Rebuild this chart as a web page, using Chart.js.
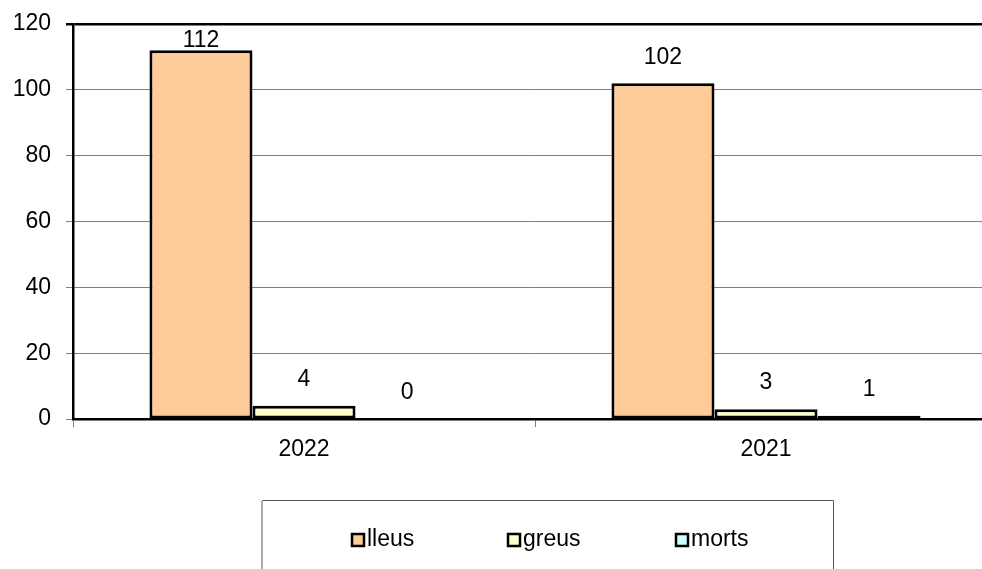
<!DOCTYPE html>
<html>
<head>
<meta charset="utf-8">
<script src="https://cdn.jsdelivr.net/npm/chart.js@4"></script>
<style>
	html, body { margin: 0; padding: 0; background: #fff; overflow: hidden; }
	#wrap { width: 982px; height: 569px; overflow: hidden; position: relative; }
	#chart { position: absolute; left: 0; top: 0; }
</style>
</head>
<body>
<div id="wrap"><canvas id="chart" width="1000" height="569"></canvas></div>
<script>

var categories = ['2022', '2021'];
var seriesNames = ['lleus', 'greus', 'morts'];
var lleus = [112, 102];
var greus = [4, 3];
var morts = [0, 1];
var seriesColors = ['#FFCC99', '#FFFFCC', '#CCFFFF'];
var yMin = 0, yMax = 120, yStep = 20;

var FONT = '"Liberation Sans", Arial, sans-serif';
var FONT_SIZE = 23;

//Value labels above each bar, pushed down if they would leave the plot
var valueLabels = {
	id: 'valueLabels',
	afterDatasetsDraw: function(chart) {
		var ctx = chart.ctx;
		ctx.save();
		ctx.font = FONT_SIZE + 'px ' + FONT;
		ctx.fillStyle = '#000';
		ctx.textAlign = 'center';
		ctx.textBaseline = 'middle';
		chart.data.datasets.forEach(function(ds, i) {
			chart.getDatasetMeta(i).data.forEach(function(bar, j) {
				var y = Math.max(bar.y - 26, chart.chartArea.top + 17);
				ctx.fillText(String(ds.data[j]), bar.x, y);
			});
		});
		ctx.restore();
	}
};

//Legend drawn in a framed box under the chart like the original
var boxLegend = {
	id: 'boxLegend',
	afterDraw: function(chart) {
		var ctx = chart.ctx;
		ctx.save();
		ctx.strokeStyle = '#555';
		ctx.lineWidth = 1;
		ctx.beginPath();
		ctx.moveTo(262.5, 600);
		ctx.lineTo(262.5, 500.5);
		ctx.lineTo(833.5, 500.5);
		ctx.lineTo(833.5, 600);
		ctx.stroke();
		ctx.strokeStyle = '#aaa';
		ctx.lineWidth = 2;
		ctx.beginPath();
		ctx.moveTo(262, 501);
		ctx.lineTo(262, 600);
		ctx.stroke();

		var xs = [352, 508, 676];
		ctx.font = FONT_SIZE + 'px ' + FONT;
		ctx.textBaseline = 'middle';
		ctx.textAlign = 'left';
		chart.data.datasets.forEach(function(ds, i) {
			ctx.fillStyle = ds.backgroundColor;
			ctx.fillRect(xs[i], 534, 12, 12);
			ctx.strokeStyle = '#000';
			ctx.lineWidth = 2.5;
			ctx.strokeRect(xs[i], 534, 12, 12);
			ctx.fillStyle = '#000';
			ctx.fillText(ds.label, xs[i] + 15, 540);
		});
		ctx.restore();
	}
};

var seriesData = [lleus, greus, morts];
var datasets = seriesNames.map(function(name, i) {
	return {
		label: name,
		data: seriesData[i],
		backgroundColor: seriesColors[i],
		borderColor: '#000',
		borderWidth: 3,
		borderSkipped: false,
		categoryPercentage: 0.669,
		barPercentage: 1.0
	};
});

var graph = new Chart('chart', {
	type: 'bar',
	data: {
		labels: categories,
		datasets: datasets
	},
	plugins: [valueLabels, boxLegend],
	options: {
		responsive: false,
		animation: false,
		layout: {
			padding: { top: 24, right: 3, left: 0, bottom: 0 }
		},
		plugins: {
			legend: { display: false },
			tooltip: { enabled: false }
		},
		scales: {
			x: {
				afterFit: function(s) { s.height = 150; s.paddingLeft = 0; s.paddingRight = 0; },
				grid: {
					drawOnChartArea: false,
					tickLength: 8,
					color: '#808080',
					lineWidth: 1
				},
				border: { color: '#000', width: 2.5 },
				ticks: {
					color: '#000',
					padding: 9,
					font: { family: FONT, size: FONT_SIZE }
				}
			},
			y: {
				min: yMin,
				max: yMax,
				afterFit: function(s) { s.width = 73; s.paddingTop = 0; s.paddingBottom = 0; },
				grid: {
					tickLength: 7,
					color: function(c) { return c.tick && c.tick.value === yMax ? '#000' : '#808080'; },
					lineWidth: function(c) { return c.tick && c.tick.value === yMax ? 2.5 : 1; }
				},
				border: { color: '#000', width: 2.5 },
				ticks: {
					stepSize: yStep,
					color: '#000',
					padding: 15,
					font: { family: FONT, size: FONT_SIZE }
				}
			}
		}
	}
});

</script>
</body>
</html>
